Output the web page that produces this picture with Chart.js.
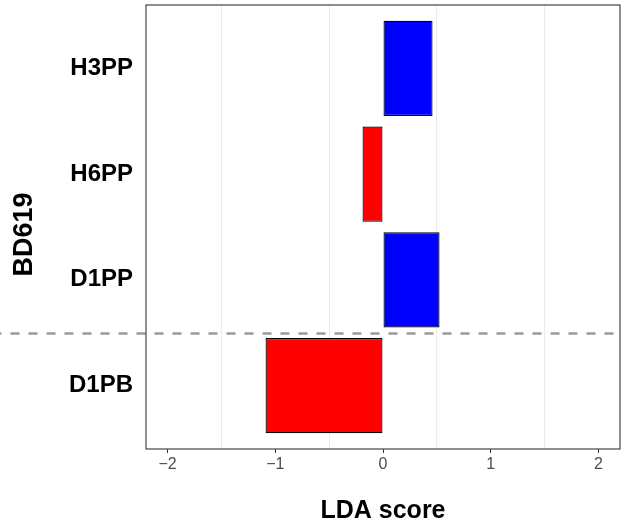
<!DOCTYPE html>
<html>
<head>
<meta charset="utf-8">
<script src="https://cdn.jsdelivr.net/npm/chart.js@4"></script>
<style>
  html, body { margin: 0; padding: 0; background: #fff; }
  #wrap { width: 622px; height: 531px; }
</style>
</head>
<body>
<div id="wrap"><canvas id="lda"></canvas></div>
<script>
/* -------- DATA -------- */
const categories = ["H3PP", "H6PP", "D1PP", "D1PB"];
const ldaScores = [0.46, -0.19, 0.525, -1.09];
const xTicks = [-2, -1, 0, 1, 2];
const xMinorGrid = [-1.5, -0.5, 0.5, 1.5];
const separatorAt = 3.5;   // between D1PP and D1PB
const yTitle = "BD619";

const barColors = ldaScores.map(v => v >= 0 ? "#0000ff" : "#ff0000");
const FONT = "'Liberation Sans', Arial, sans-serif";

/* -------- PANEL BORDER, DASHED SEPARATOR, Y TITLE -------- */
const panelPlugin = {
    id: "panel",
    afterDatasetsDraw(chart) {
        const { ctx, chartArea: a, scales } = chart;
        const y = Math.round(scales.y.getPixelForValue(separatorAt)) + 0.5;

        ctx.save();
        ctx.strokeStyle = "#9a9a9a";
        ctx.lineWidth = 2.5;
        ctx.setLineDash([9, 9]);
        ctx.lineDashOffset = 7.5;
        ctx.beginPath();
        ctx.moveTo(0, y);
        ctx.lineTo(a.right, y);
        ctx.stroke();

        ctx.setLineDash([]);
        ctx.strokeStyle = "#333333";
        ctx.lineWidth = 1.1;
        ctx.strokeRect(a.left, a.top, a.right - a.left, a.bottom - a.top);

        // y axis title, a little below the panel centre like the original
        ctx.translate(25, (a.top + a.bottom) / 2 + 7.5);
        ctx.rotate(-Math.PI / 2);
        ctx.fillStyle = "#000";
        ctx.font = "bold 27px " + FONT;
        ctx.textAlign = "center";
        ctx.textBaseline = "middle";
        ctx.fillText(yTitle, 0, 0);
        ctx.restore();
    }
};

/* -------- CHART -------- */
new Chart(document.getElementById("lda"), {
    type: "bar",
    data: {
        datasets: [{
            data: ldaScores.map((v, i) => ({ x: v, y: i + 1 })),
            backgroundColor: barColors,
            borderColor: "#000000",
            borderWidth: 1.2,
            borderSkipped: false,
            barPercentage: 0.9,
            categoryPercentage: 1
        }]
    },
    options: {
        indexAxis: "y",
        responsive: true,
        maintainAspectRatio: false,
        animation: false,
        layout: { padding: { top: 5, right: 2, left: 0, bottom: 0 } },
        plugins: {
            legend: { display: false },
            tooltip: { enabled: false }
        },
        scales: {
            x: {
                type: "linear",
                min: -2.2,
                max: 2.2,
                afterBuildTicks: s => {
                    s.ticks = xTicks.concat(xMinorGrid)
                        .sort((a, b) => a - b)
                        .map(v => ({ value: v }));
                },
                afterFit: s => { s.height = 82; s.paddingLeft = 0; s.paddingRight = 0; },
                border: { display: false },
                grid: {
                    color: c => xMinorGrid.includes(c.tick.value) ? "#ebebeb" : "rgba(0,0,0,0)",
                    tickColor: c => xTicks.includes(c.tick.value) ? "#333333" : "rgba(0,0,0,0)",
                    tickLength: 4,
                    lineWidth: 1
                },
                ticks: {
                    autoSkip: false,
                    maxRotation: 0,
                    padding: 2,
                    color: "#4d4d4d",
                    font: { family: FONT, size: 16 },
                    callback: v => xTicks.includes(v) ? String(v).replace("-", "\u2212") : ""
                },
                title: {
                    display: true,
                    text: "LDA score",
                    color: "#000",
                    padding: { top: 0, bottom: 5 },
                    font: { family: FONT, size: 25, weight: "bold" }
                }
            },
            y: {
                type: "linear",
                reverse: true,
                offset: false,
                min: 0.4,
                max: 4.6,
                afterBuildTicks: s => {
                    s.ticks = categories.map((c, i) => ({ value: i + 1 }));
                },
                afterFit: s => { s.width = 146; s.paddingTop = 0; s.paddingBottom = 0; },
                border: { display: false },
                grid: { display: false, drawTicks: false, offset: false },
                ticks: {
                    autoSkip: false,
                    padding: 13,
                    color: "#000",
                    font: { family: FONT, size: 24, weight: "bold" },
                    callback: v => categories[v - 1]
                },
                title: { display: false }
            }
        }
    },
    plugins: [panelPlugin]
});
</script>
</body>
</html>
